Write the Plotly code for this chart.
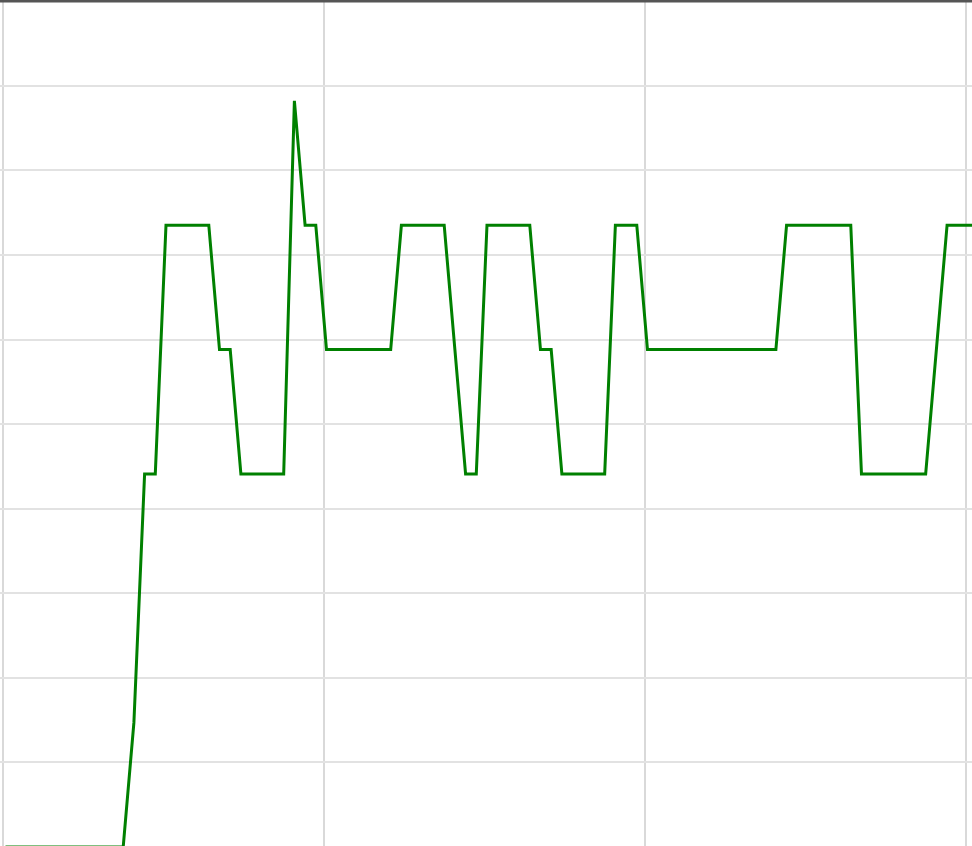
import plotly.graph_objects as go

# sample index and level (one point per step)
steps = list(range(0, 92))
levels = [0, 0, 0, 0, 0, 0, 0, 0, 0, 0, 0, 0, 1, 3, 3, 5, 5, 5, 5, 5,
          4, 4, 3, 3, 3, 3, 3, 6, 5, 5, 4, 4, 4, 4, 4, 4, 4, 5, 5, 5,
          5, 5, 4, 3, 3, 5, 5, 5, 5, 5, 4, 4, 3, 3, 3, 3, 3, 5, 5, 5,
          4, 4, 4, 4, 4, 4, 4, 4, 4, 4, 4, 4, 4, 5, 5, 5, 5, 5, 5, 5,
          3, 3, 3, 3, 3, 3, 3, 4, 5, 5, 5, 5]

fig = go.Figure()
fig.add_trace(go.Scatter(x=steps, y=levels, mode='lines',
                         line=dict(color='#008000', width=3),
                         hoverinfo='skip', showlegend=False))

fig.update_layout(
    width=972,
    height=846,
    margin=dict(l=0, r=0, t=0, b=0),
    plot_bgcolor='white',
    paper_bgcolor='white',
    xaxis=dict(range=[-0.514, 90.33], tick0=-0.23, dtick=30,
               showgrid=True, gridcolor='#d9d9d9', gridwidth=1.5,
               zeroline=False, showticklabels=False, ticks=''),
    yaxis=dict(range=[0.008, 6.811], tick0=0, dtick=0.68,
               showgrid=True, gridcolor='#e2e2e2', gridwidth=1.5,
               zeroline=False, showticklabels=False, ticks=''),
    shapes=[dict(type='line', xref='paper', yref='paper',
                 x0=0, x1=1, y0=1, y1=1,
                 line=dict(color='#555555', width=5))],
)

# page has a default 8px body margin; drop it so the plot fills the window
fig.write_html("out.html", config={'displayModeBar': False},
               post_script="document.body.style.margin='0';document.body.style.overflow='hidden';")
